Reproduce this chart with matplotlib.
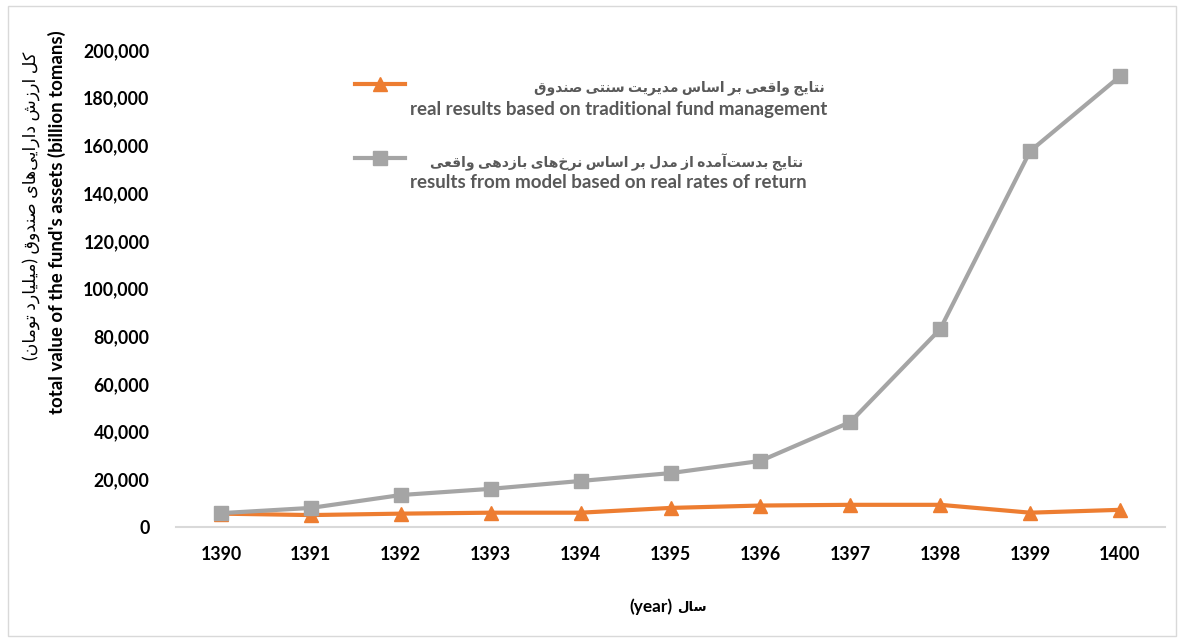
import matplotlib
matplotlib.use('Agg')
import matplotlib.pyplot as plt
from matplotlib.patches import Rectangle
from matplotlib.ticker import FuncFormatter

# data (billion tomans)
years = ['1390', '1391', '1392', '1393', '1394', '1395', '1396', '1397', '1398', '1399', '1400']
traditional = [5600, 5000, 5600, 6000, 6000, 8000, 9000, 9300, 9300, 6000, 7200]
model = [5800, 8000, 13400, 16000, 19300, 22600, 27700, 44000, 83000, 157600, 189000]

label_trad_fa = 'نتایج واقعی بر اساس مدیریت سنتی صندوق'
label_trad_en = 'real results based on traditional fund management'
label_model_fa = 'نتایج بدست\u200cآمده از مدل بر اساس نرخ\u200cهای بازدهی واقعی'
label_model_en = 'results from model based on real rates of return'
ylabel_fa = 'کل ارزش دارایی\u200cهای صندوق (میلیارد تومان)'
ylabel_en = "total value of the fund's assets (billion tomans)"
xlabel_fa = 'سال'
xlabel_en = '(year)'

# small arabic/persian shaper: matplotlib draws glyphs left to right without joining
FORMS = {
    'ا': (0xFE8D, 0xFE8E, None, None),
    'آ': (0xFE81, 0xFE82, None, None),
    'ب': (0xFE8F, 0xFE90, 0xFE91, 0xFE92),
    'ت': (0xFE95, 0xFE96, 0xFE97, 0xFE98),
    'ج': (0xFE9D, 0xFE9E, 0xFE9F, 0xFEA0),
    'خ': (0xFEA5, 0xFEA6, 0xFEA7, 0xFEA8),
    'د': (0xFEA9, 0xFEAA, None, None),
    'ر': (0xFEAD, 0xFEAE, None, None),
    'ز': (0xFEAF, 0xFEB0, None, None),
    'س': (0xFEB1, 0xFEB2, 0xFEB3, 0xFEB4),
    'ش': (0xFEB5, 0xFEB6, 0xFEB7, 0xFEB8),
    'ص': (0xFEB9, 0xFEBA, 0xFEBB, 0xFEBC),
    'ع': (0xFEC9, 0xFECA, 0xFECB, 0xFECC),
    'ق': (0xFED5, 0xFED6, 0xFED7, 0xFED8),
    'ل': (0xFEDD, 0xFEDE, 0xFEDF, 0xFEE0),
    'م': (0xFEE1, 0xFEE2, 0xFEE3, 0xFEE4),
    'ن': (0xFEE5, 0xFEE6, 0xFEE7, 0xFEE8),
    'ه': (0xFEE9, 0xFEEA, 0xFEEB, 0xFEEC),
    'و': (0xFEED, 0xFEEE, None, None),
    'ی': (0xFBFC, 0xFBFD, 0xFBFE, 0xFBFF),
    'ک': (0xFB8E, 0xFB8F, 0xFB90, 0xFB91),
}


def shape(s):
    out = []
    for i, ch in enumerate(s):
        if ch not in FORMS:
            out.append(ch)
            continue
        f = FORMS[ch]
        prev = s[i - 1] if i > 0 else ''
        nxt = s[i + 1] if i + 1 < len(s) else ''
        jp = prev in FORMS and FORMS[prev][2] is not None
        jn = f[2] is not None and nxt in FORMS
        if jp and jn:
            out.append(chr(f[3]))
        elif jp:
            out.append(chr(f[1]))
        elif jn:
            out.append(chr(f[2]))
        else:
            out.append(chr(f[0]))
    return ''.join(out).replace('\u200c', '')


def fa(s):
    return shape(s)[::-1].translate(str.maketrans('()', ')('))


FAM = ['Lato', 'DejaVu Sans']
plt.rcParams['font.family'] = FAM

fig = plt.figure(figsize=(11.84, 6.42), dpi=100)
ax = fig.add_axes([176 / 1184, 115 / 642, 989 / 1184, 477 / 642])

x = list(range(len(years)))
ax.plot(x, traditional, color='#ED7D31', linewidth=3, marker='^', markersize=10.5,
        clip_on=False, zorder=3)
ax.plot(x, model, color='#A5A5A5', linewidth=3, marker='s', markersize=10.5,
        clip_on=False, zorder=4)

ax.set_xlim(-0.5, len(years) - 0.5)
ax.set_ylim(0, 200000)
ax.set_xticks(x)
ax.set_xticklabels(years)
ax.set_yticks(range(0, 200001, 20000))
ax.yaxis.set_major_formatter(FuncFormatter(lambda v, p: f'{int(v):,}'))
for s in ['top', 'right', 'left']:
    ax.spines[s].set_visible(False)
ax.spines['bottom'].set_color('#D9D9D9')
ax.spines['bottom'].set_linewidth(1.5)
ax.tick_params(length=0, labelsize=12.8, colors='#000000')
ax.tick_params(axis='x', pad=14)
ax.tick_params(axis='y', pad=19)
for t in ax.get_xticklabels() + ax.get_yticklabels():
    t.set_fontweight('bold')


def px(xp, yp):
    return xp / 1184, 1 - yp / 642


# legend drawn by hand (handles sit on the persian line)
for ypix, color, mk, fa_txt, en_txt, fa_right in [
        (84, '#ED7D31', '^', label_trad_fa, label_trad_en, 825),
        (158, '#A5A5A5', 's', label_model_fa, label_model_en, 803)]:
    x0, y0 = px(355, ypix)
    x1, _ = px(405, ypix)
    fig.add_artist(plt.Line2D([x0, x1], [y0, y0], color=color, linewidth=3,
                              transform=fig.transFigure))
    fig.add_artist(plt.Line2D([(x0 + x1) / 2], [y0], color=color, marker=mk,
                              markersize=10.5, transform=fig.transFigure))
    fig.text(*px(fa_right, ypix + 4), fa(fa_txt), ha='right', va='center',
             fontsize=10, fontweight='bold', color='#595959')
    fig.text(*px(410, ypix + 25), en_txt, ha='left', va='center', fontsize=13.5,
             fontweight='bold', color='#595959')

# axis titles
fig.text(*px(57, 222), ylabel_en, rotation=90, ha='center', va='center',
         fontsize=13.4, fontweight='bold', color='#000000')
fig.text(*px(31, 52), fa(ylabel_fa), rotation=90, ha='center', va='top',
         fontsize=12.5, color='#000000')
fig.text(*px(673, 607), xlabel_en, ha='right', va='center',
         fontsize=12.4, fontweight='bold', color='#000000')
fig.text(*px(677, 607), fa(xlabel_fa), ha='left', va='center',
         fontsize=9.5, fontweight='bold', color='#000000')

# chart border
fig.add_artist(Rectangle((8 / 1184, 6 / 642), 1168 / 1184, 630 / 642, fill=False,
                         edgecolor='#D9D9D9', linewidth=1, transform=fig.transFigure))

fig.savefig('out.png', dpi=100)
